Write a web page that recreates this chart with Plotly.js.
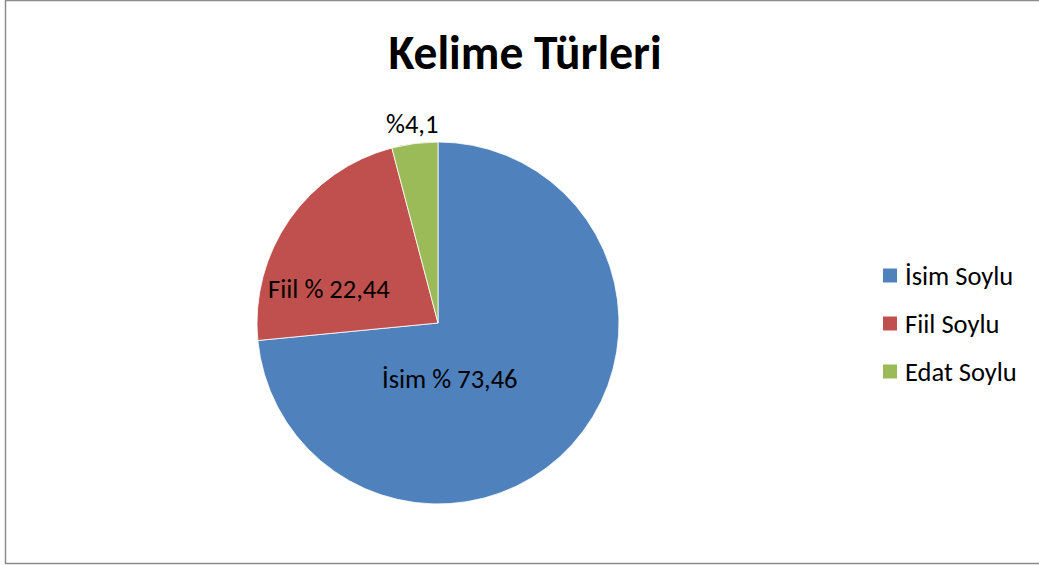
<!DOCTYPE html>
<html>
<head>
<meta charset="utf-8">
<script src="https://cdn.plot.ly/plotly-3.0.1.min.js"></script>
<style>html,body{margin:0;padding:0;background:#fff;}#chart{width:1039px;height:565px;}</style>
</head>
<body>
<div id="chart"></div>
<script>
const categories = ["İsim Soylu", "Fiil Soylu", "Edat Soylu"];
const values = [73.46, 22.44, 4.1];
const sliceLabels = ["İsim % 73,46", "Fiil % 22,44", "%4,1"];
const colors = ["#4F81BD", "#C0504D", "#9BBB59"];

const W = 1039, H = 565;
const px = x => x / W;
const py = y => 1 - y / H;
const font = "Calibri, Carlito, 'Open Sans', sans-serif";

// label anchor positions (pixels) for each slice label
const labelPos = [[450, 379], [329, 289], [412, 124]];

const annotations = sliceLabels.map((t, i) => ({
  text: t, xref: 'paper', yref: 'paper',
  x: px(labelPos[i][0]), y: py(labelPos[i][1]),
  xanchor: 'center', yanchor: 'middle', showarrow: false,
  font: {family: font, size: 26.5, color: '#000'}
}));

const shapes = [{
  type: 'rect', xref: 'paper', yref: 'paper',
  x0: px(5.5), x1: 1.02, y0: py(563.5), y1: py(0.5),
  line: {color: '#8c8c8c', width: 1.5}, fillcolor: 'rgba(0,0,0,0)'
}];

categories.forEach((c, i) => {
  const cy = 275.5 + i * 48;
  shapes.push({
    type: 'rect', xref: 'paper', yref: 'paper',
    x0: px(883), x1: px(897), y0: py(cy + 7), y1: py(cy - 7),
    line: {width: 0}, fillcolor: colors[i]
  });
  annotations.push({
    text: c, xref: 'paper', yref: 'paper',
    x: px(903), y: py(cy), xanchor: 'left', yanchor: 'middle', showarrow: false,
    font: {family: font, size: 26.5, color: '#000'}
  });
});

const cx = 438, cyc = 323, r = 181;
const data = [{
  type: 'pie',
  labels: categories,
  values: values,
  sort: false,
  direction: 'clockwise',
  rotation: 0,
  marker: {colors: colors, line: {color: '#ffffff', width: 0.8}},
  textinfo: 'none',
  hoverinfo: 'label+value',
  showlegend: false,
  domain: {x: [px(cx - r), px(cx + r)], y: [py(cyc + r), py(cyc - r)]}
}];

const layout = {
  width: W, height: H,
  margin: {l: 0, r: 0, t: 0, b: 0},
  paper_bgcolor: '#fff',
  title: {text: '<b>Kelime Türleri</b>', x: 525 / W, xanchor: 'center', y: py(52), yanchor: 'middle',
          font: {family: font, size: 47.5, color: '#000'}},
  showlegend: false,
  annotations: annotations,
  shapes: shapes
};

Plotly.newPlot('chart', data, layout, {displayModeBar: false, staticPlot: true});
</script>
</body>
</html>
